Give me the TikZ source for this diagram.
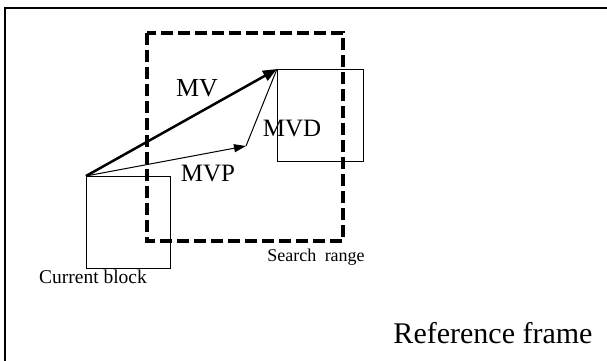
\documentclass[tikz,border=0pt]{standalone}
\usepackage{fontspec}
\setmainfont{Liberation Serif}
\usetikzlibrary{arrows.meta}
\tikzset{
  blk/.style={draw, line width=1pt, inner sep=0pt, anchor=north west},
  lbl/.style={inner sep=0pt, font=\fontsize{25}{25}\selectfont}
}
\begin{document}
\begin{tikzpicture}[x=1pt,y=-1pt]
\useasboundingbox (0,0) rectangle (607,360);
\draw[line width=2pt] (5,362) -- (5,8) -- (609,8);
\draw[line width=4pt, dash pattern=on 12pt off 5pt] (147,33) rectangle (343,241);
\node[blk, minimum width=84pt, minimum height=92pt] (cur) at (86,176) {};
\node[blk, minimum width=86pt, minimum height=92pt] (tgt) at (277,69) {};
\coordinate (mvp) at (246,146);
\draw[line width=2.5pt, -{Triangle[length=14pt,width=11pt]}] (cur.north west) -- (tgt.north west);
\draw[line width=1pt, -{Triangle[length=12pt,width=8pt]}] (cur.north west) -- (mvp);
\draw[line width=1pt] (mvp) -- (tgt.north west);
\node[lbl, font=\fontsize{26}{26}\selectfont] (mv) at (197,88) {MV};
\node[lbl] (mvd) at (292,128) {MVD};
\node[lbl] (mvpl) at (208,173) {MVP};
\node[lbl, font=\fontsize{19.5}{20}\selectfont] (curl) at (93,277) {Current block};
\node[lbl, font=\fontsize{18}{18}\selectfont] (srch) at (316,257) {Search\hspace{4pt} range};
\node[lbl, font=\fontsize{30}{30}\selectfont] (reff) at (493,333) {Reference frame};
\end{tikzpicture}
\end{document}
